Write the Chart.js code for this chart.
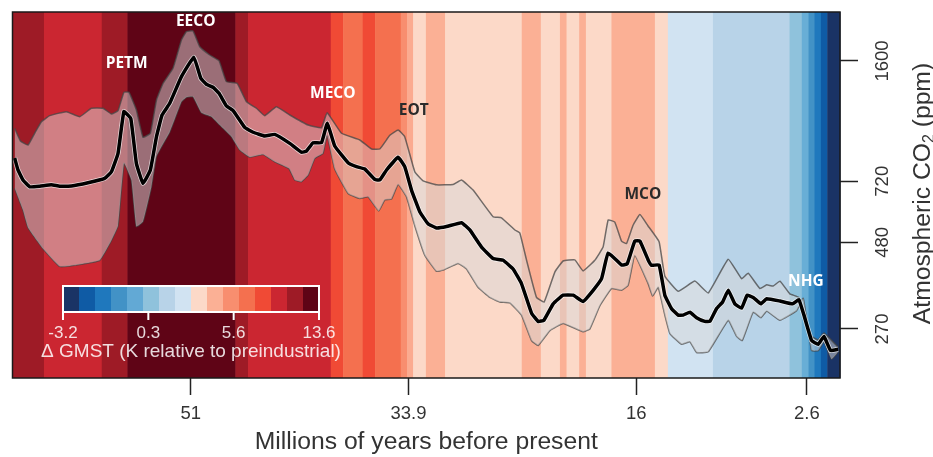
<!DOCTYPE html>
<html>
<head>
<meta charset="utf-8">
<script src="https://cdn.jsdelivr.net/npm/chart.js@4/dist/chart.umd.min.js"></script>
<style>
  html, body { margin: 0; padding: 0; background: #fff; }
  #wrap { width: 933px; height: 457px; position: relative; }
</style>
</head>
<body>
<div id="wrap"><canvas id="co2-chart"></canvas></div>
<script>
// age in Myr before present, CO2 in ppm
const median_age = [64.83,64.57,64.18,63.65,62.86,61.95,61.29,60.37,59.07,57.76,57.23,56.71,56.25,55.71,55.27,54.75,54.17,53.69,53.25,52.65,51.73,50.76,50.21,49.77,49.25,48.78,48.2,47.67,46.76,46.1,45.19,44.4,43.22,42.3,41.91,41.39,40.73,40.27,39.69,38.62,37.98,37.33,36.54,36.15,35.62,34.71,34.19,33.66,33.01,32.36,31.7,30.91,29.73,29.08,28.16,27.25,26.46,25.68,25.02,24.23,23.71,23.26,22.53,21.75,20.96,20.18,19.39,18.73,18.21,17.16,16.72,16.12,15.72,15.07,14.8,14.21,13.76,13.23,12.71,12.32,11.79,11.27,10.62,10.22,9.7,9.22,8.78,8.26,7.73,7.29,6.82,6.21,5.76,4.72,3.72,3.23,2.83,2.23,1.71,1.26,0.74,0.14]
const median_co2 = [840,776,726,694,697,704,697,698,713,734,767,867,1143,1093,811,710,776,968,1118,1208,1442,1640,1426,1371,1344,1291,1187,1151,1030,997,972,983,926,873,880,930,930,1058,910,813,793,781,729,726,776,844,793,679,588,543,528,533,547,521,465,431,426,402,365,300,284,286,319,338,338,324,349,377,447,413,416,484,484,427,412,413,338,309,296,296,302,291,284,284,309,323,349,319,310,338,333,319,330,325,319,328,296,250,244,257,234,236]

const upper_age = [64.83,64.38,63.78,63.26,62.73,62.08,60.77,59.72,58.8,57.89,57.23,56.71,56.25,55.85,55.27,54.75,54.17,53.69,53.17,52.39,51.73,51.34,50.82,50.29,49.51,48.78,48.2,47.36,46.62,45.84,45.19,44.27,43.22,41.78,40.73,40.29,39.16,37.72,36.8,36.15,35.36,34.71,34.19,33.4,32.75,31.7,30.39,29.73,28.82,27.25,26.59,25.54,25.15,24.62,23.84,23.24,22.4,21.75,20.83,20.18,19.26,18.61,18.21,17.69,17.16,16.77,16.27,15.72,15.09,14.21,13.76,12.71,11.4,10.35,8.78,7.73,7.21,6.29,5.76,5.25,4.72,3.94,3.23,2.89,2.23,1.71,1.26,0.14]
const upper_co2 = [1023,941,916,990,1069,1113,1143,1105,1169,1169,1125,1151,1300,1300,1156,964,990,1235,1380,1524,1839,1944,1953,1759,1665,1603,1395,1380,1221,1169,1113,1181,1118,1046,1027,1135,990,947,892,892,977,1012,968,767,722,703,705,726,679,569,565,521,511,426,333,323,394,424,427,397,426,465,557,549,484,476,536,577,536,482,384,347,371,343,429,377,391,353,362,359,371,341,333,302,257,251,263,239]

const lower_age = [64.83,64.18,63.78,62.6,61.29,59.98,58.15,57.23,56.71,56.24,55.66,55.27,54.75,54.09,53.69,52.65,51.73,51.34,50.82,50.16,49.37,48.72,47.8,47.15,46.36,45.32,44.4,43.28,42.83,42.3,41.78,41.26,40.61,40.29,39.69,38.64,37.72,37.07,36.23,35.76,35.23,34.71,34.05,33.4,32.61,31.7,31.18,30.0,29.34,28.43,27.51,26.72,25.94,25.02,24.23,23.71,22.79,21.75,20.18,19.65,18.86,17.95,17.16,16.64,16.12,15.07,14.72,14.28,13.76,13.36,12.45,11.79,11.27,10.35,8.78,8.12,7.68,6.82,6.21,5.76,4.72,3.41,2.89,2.23,1.71,1.26,0.66,0.14]
const lower_co2 = [687,595,529,460,409,413,426,486,536,811,726,533,551,694,851,999,1221,1258,1262,1134,1105,1046,968,886,845,860,819,783,726,718,750,838,867,977,781,664,642,649,591,636,640,705,649,536,440,396,399,417,402,356,333,323,321,296,250,242,267,280,265,270,315,353,349,361,440,365,336,356,296,262,244,248,231,232,286,257,250,302,291,304,286,305,331,234,234,248,221,232]

// warming stripes, left to right: edges in Myr and the colour of each interval
const stripe_edges = [65,62.53,57.99,55.97,47.49,46.5,40,39.03,37.49,36.52,34.5,34,33.53,32.53,31.02,25,23.5,22,21.48,20.49,19.96,17.95,14.54,13.52,9.98,3.96,3,2.47,2,1.5,1,0]
const stripe_colors = ['#9e1b26','#cb2631','#9e1b26','#5f0416','#9e1b26','#cb2631','#f04a35','#f4704f','#f04a35','#f4704f','#f88e6f','#fbab90','#fcd9c8','#fbb095','#fcd9c8','#fbb095','#fcd9c8','#fbb095','#fcd9c8','#fbb095','#fcd9c8','#fbb095','#fcd9c8','#d1e3f2','#b8d3e8','#8fc2dc','#68aed6','#4292c6','#1f78bd','#0f5ba5','#1a3365']

const x_ticks = [51,33.9,16,2.6]
const y_ticks = [270,480,720,1600]

const event_names = ['PETM','EECO','MECO','EOT','MCO','NHG']
const event_age = [56.03,50.61,39.84,33.48,15.49,2.68]
const event_co2 = [1570,2073,1285,1148,661,371]
const event_colors = ['#ffffff','#ffffff','#ffffff','#2b2b2b','#2b2b2b','#ffffff']

const bar_colors = ['#1a3365','#0f5ba5','#1f78bd','#4292c6','#62a9d5','#8fc2dc','#b8d3e8','#d1e3f2','#fcd9c8','#fbb095','#f88e6f','#f4704f','#f04a35','#cb2631','#9e1b26','#5f0416']
const bar_labels = ['-3.2','0.3','5.6','13.6']
const bar_title = '\u0394 GMST (K relative to preindustrial)'

const zip = (xs, ys) => xs.map((x, i) => ({ x: x, y: ys[i] }))

const stripes = {
  id: 'stripes',
  beforeDatasetsDraw(chart) {
    const { ctx, chartArea, scales } = chart
    stripe_colors.forEach((color, i) => {
      const x0 = scales.x.getPixelForValue(stripe_edges[i])
      const x1 = scales.x.getPixelForValue(stripe_edges[i + 1])
      ctx.fillStyle = color
      ctx.fillRect(x0, chartArea.top, x1 - x0 + 0.5, chartArea.bottom - chartArea.top)
    })
  }
}

const overlay = {
  id: 'overlay',
  afterDatasetsDraw(chart) {
    const { ctx, chartArea, scales } = chart
    ctx.save()

    // frame
    ctx.strokeStyle = '#1a1a1a'
    ctx.lineWidth = 1.5
    ctx.strokeRect(chartArea.left, chartArea.top, chartArea.right - chartArea.left, chartArea.bottom - chartArea.top)

    // event names
    ctx.font = 'bold 15.5px "Open Sans"'
    ctx.textAlign = 'center'
    ctx.textBaseline = 'middle'
    event_names.forEach((name, i) => {
      ctx.fillStyle = event_colors[i]
      ctx.fillText(name, scales.x.getPixelForValue(event_age[i]), scales.y.getPixelForValue(event_co2[i]))
    })

    // colour bar
    const barLeft = 63, barTop = 286, barW = 256, barH = 26
    const step = barW / bar_colors.length
    bar_colors.forEach((color, i) => {
      ctx.fillStyle = color
      ctx.fillRect(barLeft + i * step, barTop, step + 0.5, barH)
    })
    ctx.strokeStyle = '#ffffff'
    ctx.lineWidth = 2
    ctx.strokeRect(barLeft, barTop, barW, barH)
    ctx.fillStyle = 'rgba(255,255,255,0.85)'
    ctx.font = '17px "Liberation Sans"'
    bar_labels.forEach((label, i) => {
      const x = barLeft + i * barW / 3
      ctx.beginPath()
      ctx.moveTo(x, barTop + barH)
      ctx.lineTo(x, barTop + barH + 8)
      ctx.stroke()
      ctx.fillText(label, x, 333)
    })
    ctx.font = '19px "Liberation Sans"'
    ctx.fillText(bar_title, 191, 352)

    // right axis title, with the subscript
    ctx.translate(921.5, 193.5)
    ctx.rotate(-Math.PI / 2)
    ctx.fillStyle = '#333333'
    ctx.textAlign = 'left'
    ctx.textBaseline = 'alphabetic'
    ctx.font = '24.7px "Liberation Sans"'
    const head = 'Atmospheric CO', tail = ' (ppm)'
    const headW = ctx.measureText(head).width, tailW = ctx.measureText(tail).width
    ctx.font = '16px "Liberation Sans"'
    const subW = ctx.measureText('2').width
    const start = -(headW + subW + tailW) / 2
    ctx.fillText('2', start + headW, 12)
    ctx.font = '24.7px "Liberation Sans"'
    ctx.fillText(head, start, 8)
    ctx.fillText(tail, start + headW + subW, 8)
    ctx.restore()
  }
}

new Chart(document.getElementById('co2-chart'), {
  type: 'line',
  plugins: [stripes, overlay],
  data: {
    datasets: [
      { data: zip(median_age, median_co2), borderColor: '#000000', borderWidth: 3.5, pointRadius: 0, fill: false, order: 0 },
      { data: zip(median_age, median_co2), borderColor: 'rgba(255,255,255,0.7)', borderWidth: 5, pointRadius: 0, fill: false, order: 1 },
      { data: zip(upper_age, upper_co2), borderColor: 'rgba(70,70,70,0.75)', borderWidth: 1.5, pointRadius: 0, fill: '+1', backgroundColor: 'rgba(216,216,216,0.5)', order: 2 },
      { data: zip(lower_age, lower_co2), borderColor: 'rgba(70,70,70,0.75)', borderWidth: 1.5, pointRadius: 0, fill: false, order: 3 }
    ]
  },
  options: {
    responsive: true,
    maintainAspectRatio: false,
    animation: false,
    layout: { padding: { left: 12.5, top: 12 } },
    plugins: { legend: { display: false }, tooltip: { enabled: false } },
    elements: { line: { tension: 0.1, borderJoinStyle: 'round' } },
    scales: {
      x: {
        type: 'linear',
        reverse: true,
        min: 0,
        max: 65,
        afterBuildTicks: s => { s.ticks = x_ticks.map(v => ({ value: v })) },
        afterFit: s => { s.height = 79 },
        grid: { drawOnChartArea: false, tickLength: 17, tickColor: '#222', tickWidth: 1.5 },
        border: { display: false },
        ticks: { color: '#333', font: { family: 'Liberation Sans', size: 18.5 }, padding: 8, maxRotation: 0, autoSkip: false, callback: v => String(v) },
        title: { display: true, text: 'Millions of years before present', color: '#333', font: { family: 'Liberation Sans', size: 24.7 }, padding: { top: 0, bottom: 0 } }
      },
      y: {
        type: 'logarithmic',
        position: 'right',
        min: 195,
        max: 2215,
        afterBuildTicks: s => { s.ticks = y_ticks.map(v => ({ value: v })) },
        afterFit: s => { s.width = 93; s.paddingTop = 0; s.paddingBottom = 0 },
        grid: { drawOnChartArea: false, tickLength: 18, tickColor: '#222', tickWidth: 1.5 },
        border: { display: false },
        ticks: { color: '#333', font: { family: 'Liberation Sans', size: 18.5 }, padding: 4, minRotation: 90, maxRotation: 90, crossAlign: 'center', autoSkip: false, callback: v => String(v) }
      }
    }
  }
})
</script>
</body>
</html>
